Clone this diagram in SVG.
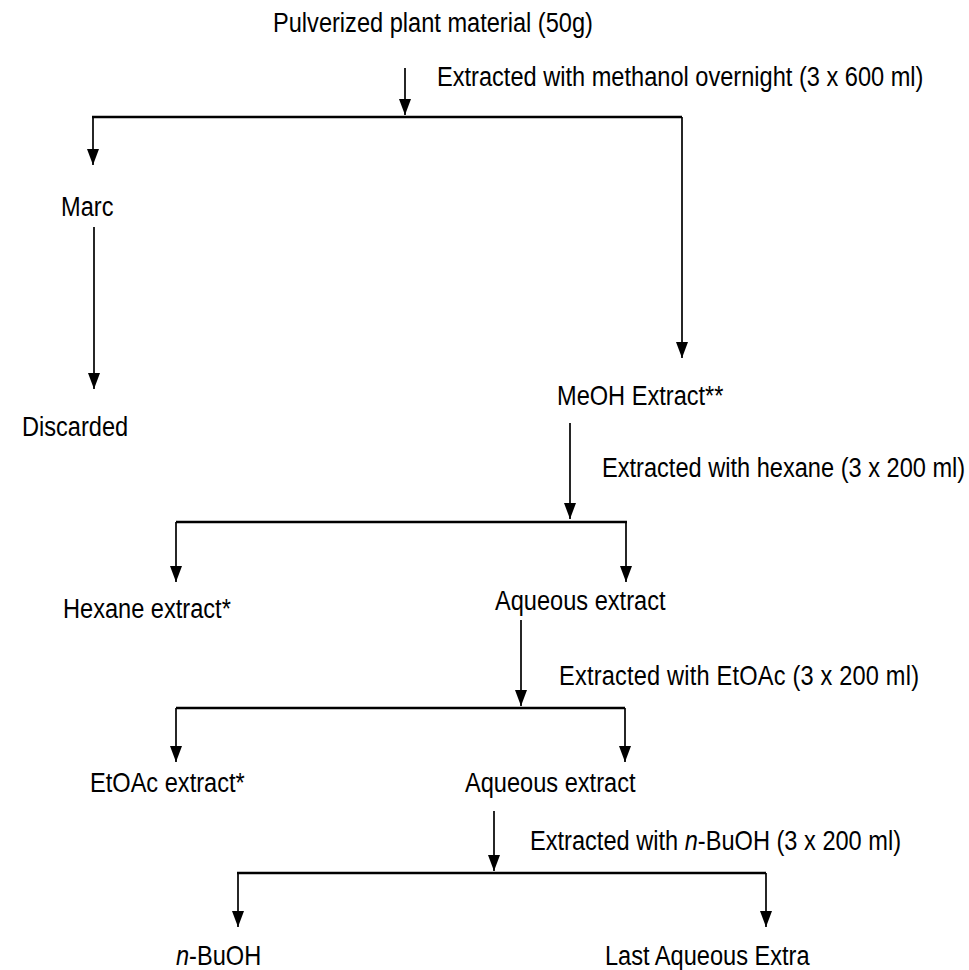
<svg xmlns="http://www.w3.org/2000/svg" width="969" height="970" viewBox="0 0 969 970">
<defs>
<marker id="ah" markerWidth="16" markerHeight="12" refX="16" refY="6" orient="auto" markerUnits="userSpaceOnUse" viewBox="0 0 16 12">
<path d="M0,0 L16,6 L0,12 Z" fill="#000"/>
</marker>
<style>
text{font-family:"Liberation Sans",Arial,sans-serif;font-size:23.6px;fill:#000}
.h{stroke:#000;stroke-width:2.6;fill:none}
.a{stroke:#000;stroke-width:1.7;fill:none}
</style>
</defs>
<rect width="969" height="970" fill="#fff"/>
<g id="connectors">
<line class="a" x1="405" y1="68" x2="405" y2="115" marker-end="url(#ah)"/>
<line class="h" x1="92" y1="117" x2="682" y2="117"/>
<line class="a" x1="93" y1="117" x2="93" y2="165" marker-end="url(#ah)"/>
<line class="a" x1="682" y1="117" x2="682" y2="358" marker-end="url(#ah)"/>
<line class="a" x1="94" y1="227" x2="94" y2="389" marker-end="url(#ah)"/>
<line class="a" x1="570" y1="423" x2="570" y2="519" marker-end="url(#ah)"/>
<line class="h" x1="176" y1="522" x2="627" y2="522"/>
<line class="a" x1="176" y1="522" x2="176" y2="582" marker-end="url(#ah)"/>
<line class="a" x1="626" y1="522" x2="626" y2="582" marker-end="url(#ah)"/>
<line class="a" x1="521" y1="620" x2="521" y2="706" marker-end="url(#ah)"/>
<line class="h" x1="176" y1="708" x2="625" y2="708"/>
<line class="a" x1="176" y1="708" x2="176" y2="762" marker-end="url(#ah)"/>
<line class="a" x1="625" y1="708" x2="625" y2="762" marker-end="url(#ah)"/>
<line class="a" x1="494" y1="811" x2="494" y2="871" marker-end="url(#ah)"/>
<line class="h" x1="237" y1="873" x2="766" y2="873"/>
<line class="a" x1="238" y1="873" x2="238" y2="927" marker-end="url(#ah)"/>
<line class="a" x1="766" y1="873" x2="766" y2="927" marker-end="url(#ah)"/>
</g>
<g id="n-plant"><text transform="translate(273,32) scale(1,1.15)">Pulverized plant material (50g)</text></g>
<g id="l-methanol"><text transform="translate(437,86) scale(1,1.15)">Extracted with methanol overnight (3 x 600 ml)</text></g>
<g id="n-marc"><text transform="translate(61,216) scale(1,1.15)">Marc</text></g>
<g id="n-discarded"><text transform="translate(22,436) scale(1,1.15)">Discarded</text></g>
<g id="n-meoh"><text transform="translate(557,405) scale(1,1.15)">MeOH Extract**</text></g>
<g id="l-hexane"><text transform="translate(602,477) scale(1,1.15)">Extracted with hexane (3 x 200 ml)</text></g>
<g id="n-hexane"><text transform="translate(63,618) scale(1,1.15)">Hexane extract*</text></g>
<g id="n-aq1"><text transform="translate(495,610) scale(1,1.15)">Aqueous extract</text></g>
<g id="l-etoac"><text transform="translate(559,685) scale(1,1.15)" textLength="360" lengthAdjust="spacing">Extracted with EtOAc (3 x 200 ml)</text></g>
<g id="n-etoac"><text transform="translate(90,792) scale(1,1.15)">EtOAc extract*</text></g>
<g id="n-aq2"><text transform="translate(465,792) scale(1,1.15)">Aqueous extract</text></g>
<g id="l-buoh"><text transform="translate(530,850) scale(1,1.15)">Extracted with <tspan font-style="italic">n</tspan>-BuOH (3 x 200 ml)</text></g>
<g id="n-buoh"><text transform="translate(176,965) scale(1,1.15)"><tspan font-style="italic">n</tspan>-BuOH</text></g>
<g id="n-lastaq"><text transform="translate(605,965) scale(1,1.15)">Last Aqueous Extra</text></g>
</svg>
